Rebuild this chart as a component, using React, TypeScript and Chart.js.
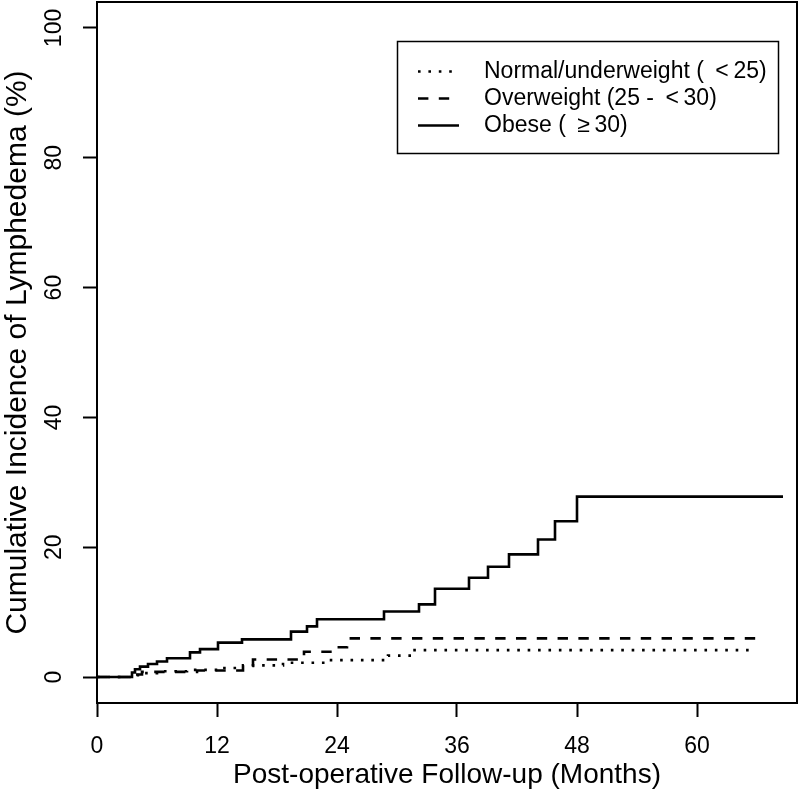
import React, { useEffect, useRef } from "react";
import { Chart, registerables } from "chart.js";

Chart.register(...registerables);

const FONT = '"Liberation Sans", Arial, Helvetica, sans-serif';

// Axis ticks
const xTicks = [0, 12, 24, 36, 48, 60];
const yTicks = [0, 20, 40, 60, 80, 100];

// Series labels
const seriesLabels = [
  "Normal/underweight (\u2002<\u200925)",
  "Overweight (25 -\u2002<\u200930)",
  "Obese (\u2002\u2265\u200930)",
];

// Normal/underweight (< 25)
const normalTimes = [0, 3.6, 4.5, 6.0, 9.0, 12.5, 14.6, 18.6, 23.1, 29.1, 31.5, 65.3];
const normalValues = [0, 0.3, 0.6, 0.9, 1.1, 1.4, 1.8, 2.2, 2.6, 3.3, 4.15, 4.15];

// Overweight (25 - < 30)
const overTimes = [0, 3.7, 4.5, 10.0, 14.6, 15.6, 20.3, 20.7, 23.5, 25.0, 66.1];
const overValues = [0, 0.4, 0.8, 1.0, 1.7, 2.7, 3.3, 3.9, 4.6, 5.95, 5.95];

// Obese (>= 30)
const obeseTimes = [0, 3.5, 3.8, 4.3, 5.1, 6.0, 7.0, 9.3, 10.3, 12.1, 14.5, 19.4, 21.0, 22.0, 28.7, 32.2, 33.8, 37.2, 39.1, 41.2, 44.1, 45.8, 48.0, 68.6];
const obeseValues = [0, 0.7, 1.2, 1.6, 2.0, 2.4, 2.9, 3.8, 4.3, 5.3, 5.8, 7.0, 7.8, 8.9, 10.1, 11.2, 13.6, 15.3, 17.0, 18.9, 21.2, 24.0, 27.8, 27.8];

const LW = 2.6;

const toPoints = (ts: number[], vs: number[]) => ts.map((t, i) => ({ x: t, y: vs[i] }));

const boxLegendPlugin = {
  id: "boxLegend",
  afterDraw(chart: any) {
    const { ctx, chartArea: a } = chart;
    ctx.save();
    ctx.strokeStyle = "#000";
    ctx.setLineDash([]);
    ctx.lineWidth = 2;
    ctx.strokeRect(a.left, a.top, a.right - a.left, a.bottom - a.top);

    // legend box
    const bx = 397.5, by = 41.5, bw = 381, bh = 112;
    ctx.lineWidth = 1.5;
    ctx.strokeRect(bx, by, bw, bh);
    const rows = [70, 97, 124];
    ctx.font = `23px ${FONT}`;
    ctx.fillStyle = "#000";
    ctx.textAlign = "left";
    ctx.textBaseline = "alphabetic";
    chart.data.datasets.forEach((ds: any, i: number) => {
      const y = rows[i];
      ctx.save();
      ctx.lineWidth = ds.borderWidth;
      ctx.lineCap = "butt";
      ctx.setLineDash(ds.borderDash || []);
      ctx.beginPath();
      ctx.moveTo(418, y + 1.5);
      ctx.lineTo(459, y + 1.5);
      ctx.stroke();
      ctx.restore();
      ctx.fillText(ds.label, 484, y + 8.2);
    });
    ctx.restore();
  },
};

export default function App() {
  const ref = useRef<HTMLCanvasElement>(null);
  useEffect(() => {
    const common = {
      borderColor: "#000",
      borderWidth: LW,
      pointRadius: 0,
      pointHoverRadius: 0,
      fill: false,
      stepped: "before" as const,
      tension: 0,
      borderCapStyle: "butt" as const,
      borderJoinStyle: "miter" as const,
    };
    const chart = new Chart(ref.current!, {
      type: "line",
      data: {
        datasets: [
          { ...common, label: seriesLabels[0], data: toPoints(normalTimes, normalValues), borderDash: [LW, LW * 3] },
          { ...common, label: seriesLabels[1], data: toPoints(overTimes, overValues), borderDash: [LW * 4, LW * 4] },
          { ...common, label: seriesLabels[2], data: toPoints(obeseTimes, obeseValues), borderDash: [] },
        ],
      },
      options: {
        animation: false,
        responsive: false,
        devicePixelRatio: 1,
        events: [],
        layout: { padding: { top: 2, right: 3, left: 0, bottom: 0 } },
        plugins: {
          legend: { display: false },
          tooltip: { enabled: false },
        },
        scales: {
          x: {
            type: "linear",
            min: 0,
            max: 70,
            afterBuildTicks: (s: any) => {
              s.ticks = xTicks.map((v) => ({ value: v }));
            },
            afterFit: (s: any) => {
              s.height = 99;
              s.paddingLeft = 0;
              s.paddingRight = 0;
            },
            border: { display: false },
            grid: {
              display: true,
              drawOnChartArea: false,
              drawTicks: true,
              tickLength: 14,
              tickWidth: 2,
              tickColor: "#000",
            },
            ticks: {
              autoSkip: false,
              maxRotation: 0,
              minRotation: 0,
              padding: 16,
              color: "#000",
              font: { family: FONT, size: 23 },
            },
            title: {
              display: true,
              text: "Post-operative Follow-up (Months)",
              color: "#000",
              font: { family: FONT, size: 28, lineHeight: 1 },
              padding: { top: 0, bottom: 13 },
            },
          },
          y: {
            type: "linear",
            min: -4,
            max: 104,
            afterBuildTicks: (s: any) => {
              s.ticks = yTicks.map((v) => ({ value: v }));
            },
            afterFit: (s: any) => {
              s.width = 97;
              s.paddingTop = 0;
              s.paddingBottom = 0;
            },
            border: { display: false },
            grid: {
              display: true,
              drawOnChartArea: false,
              drawTicks: true,
              tickLength: 14,
              tickWidth: 2,
              tickColor: "#000",
            },
            ticks: {
              minRotation: 90,
              maxRotation: 90,
              crossAlign: "center",
              padding: 9,
              color: "#000",
              font: { family: FONT, size: 23 },
            },
            title: {
              display: true,
              text: "Cumulative Incidence of Lymphedema (%)",
              color: "#000",
              font: { family: FONT, size: 30, lineHeight: 1 },
              padding: { top: 3, bottom: 0 },
            },
          },
        },
      } as any,
      plugins: [boxLegendPlugin],
    });
    return () => chart.destroy();
  }, []);
  return (
    <div style={{ position: "absolute", left: 0, top: 0, width: 800, height: 802, background: "#fff" }}>
      <canvas ref={ref} width={800} height={802} style={{ display: "block", width: 800, height: 802 }} />
    </div>
  );
}
